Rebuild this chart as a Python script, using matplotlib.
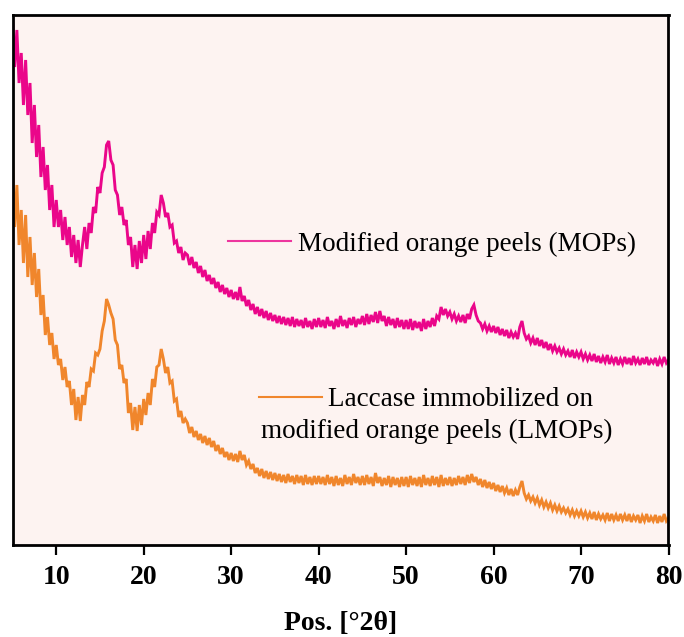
import matplotlib

matplotlib.use("Agg")
import matplotlib.pyplot as plt
import numpy as np
from matplotlib.lines import Line2D

# Scan grid (°2θ), 0.25° steps from 5 to 80
two_theta = np.arange(5.0, 80.001, 0.25)

# Intensity (a.u.), 20 values per 5° row
mops = [
    528, 478, 515, 462, 492, 440, 485, 430, 462, 402, 440, 388, 420, 368, 398, 355, 380, 335, 360, 318,
    345, 318, 335, 305, 328, 300, 318, 288, 310, 282, 305, 278, 300, 318, 296, 322, 312, 338, 332, 358,
    352, 372, 378, 400, 404, 385, 380, 355, 350, 330, 338, 320, 325, 300, 308, 278, 300, 276, 304, 282,
    310, 286, 314, 296, 322, 312, 333, 330, 350, 342, 328, 332, 318, 320, 302, 304, 292, 298, 285, 292,
    290, 280, 288, 277, 283, 272, 279, 268, 275, 264, 270, 261, 267, 257, 263, 253, 260, 251, 257, 248,
    255, 246, 253, 245, 258, 244, 249, 239, 245, 235, 241, 231, 238, 229, 236, 227, 234, 225, 232, 224,
    230, 222, 229, 221, 228, 220, 227, 219, 228, 218, 226, 219, 225, 217, 227, 218, 224, 216, 226, 218,
    227, 218, 225, 217, 228, 219, 224, 216, 226, 218, 229, 219, 225, 217, 227, 220, 228, 218, 226, 221,
    229, 220, 231, 221, 230, 223, 233, 222, 234, 224, 229, 219, 228, 220, 226, 217, 227, 218, 225, 216,
    225, 216, 226, 215, 224, 217, 223, 214, 226, 216, 224, 218, 227, 219, 229, 226, 238, 230, 236, 229,
    233, 226, 231, 224, 229, 223, 230, 222, 231, 226, 236, 240, 230, 224, 222, 216, 221, 214, 219, 213,
    219, 212, 218, 210, 216, 209, 215, 207, 213, 208, 212, 206, 218, 224, 212, 206, 209, 202, 207, 200,
    207, 199, 205, 197, 203, 195, 201, 194, 199, 193, 197, 191, 196, 190, 194, 188, 195, 187, 193, 188,
    193, 186, 191, 185, 190, 184, 191, 183, 189, 182, 188, 183, 190, 181, 187, 182, 188, 180, 186, 181,
    188, 181, 187, 180, 189, 182, 186, 180, 187, 181, 188, 180, 185, 182, 187, 179, 186, 181, 188, 182,
    185,
]

lmops = [
    385, 318, 360, 300, 335, 282, 330, 268, 308, 260, 292, 248, 276, 230, 250, 210, 228, 200, 212, 186,
    200, 180, 186, 165, 178, 158, 164, 140, 156, 125, 148, 124, 150, 140, 163, 158, 176, 174, 192, 190,
    196, 214, 224, 246, 240, 232, 226, 205, 200, 176, 180, 162, 166, 132, 142, 115, 138, 114, 140, 120,
    146, 130, 152, 140, 166, 158, 178, 180, 196, 186, 172, 178, 162, 164, 144, 146, 128, 134, 122, 126,
    122, 112, 118, 108, 114, 105, 111, 102, 109, 100, 107, 98, 104, 94, 100, 91, 97, 88, 93, 85,
    92, 84, 91, 83, 94, 85, 90, 80, 84, 76, 81, 72, 77, 69, 76, 67, 74, 66, 73, 65,
    72, 64, 71, 63, 70, 62, 71, 63, 69, 61, 70, 62, 69, 60, 70, 61, 68, 60, 69, 61,
    69, 61, 68, 60, 70, 61, 68, 59, 69, 60, 67, 59, 70, 61, 68, 60, 71, 62, 68, 60,
    69, 60, 70, 61, 68, 59, 72, 62, 68, 59, 67, 60, 69, 58, 68, 60, 67, 58, 68, 59,
    68, 58, 69, 60, 67, 59, 68, 58, 70, 60, 67, 59, 69, 60, 68, 58, 70, 59, 67, 60,
    68, 59, 67, 60, 69, 61, 68, 60, 70, 62, 71, 63, 68, 60, 66, 58, 65, 57, 63, 56,
    62, 54, 60, 53, 59, 52, 57, 50, 56, 49, 55, 50, 58, 64, 52, 46, 50, 44, 48, 42,
    47, 40, 45, 38, 43, 37, 42, 35, 40, 34, 39, 33, 37, 32, 36, 30, 35, 29, 34, 29,
    34, 28, 33, 27, 32, 26, 33, 25, 31, 26, 30, 25, 32, 24, 31, 25, 30, 24, 31, 25,
    30, 24, 31, 23, 29, 25, 30, 22, 29, 24, 31, 23, 28, 24, 30, 22, 29, 23, 31, 24,
    27,
]

x_ticks = [10, 20, 30, 40, 50, 60, 70, 80]
label_mops = "Modified orange peels (MOPs)"
label_lmops = ["Laccase immobilized on", "modified orange peels (LMOPs)"]

PINK = "#ea068a"
ORANGE = "#f0862c"
BG = "#fdf3f1"

plt.rcParams["font.family"] = ["Liberation Serif", "DejaVu Serif"]

W, H = 684, 637
fig = plt.figure(figsize=(W / 100, H / 100), dpi=100)
ax = fig.add_axes([12.5 / W, (H - 545) / H, 656 / W, 530 / H])
ax.set_facecolor(BG)

ax.plot(two_theta, mops, color=PINK, lw=2.1, solid_joinstyle="miter")
ax.plot(two_theta, lmops, color=ORANGE, lw=2.1, solid_joinstyle="miter")

ax.set_xlim(5, 80)
ax.set_ylim(0, 530)
ax.set_yticks([])
ax.set_xticks(x_ticks)
ax.set_xticklabels([str(t) for t in x_ticks], fontsize=20, fontweight="bold")
ax.tick_params(axis="x", direction="out", length=7.5, width=1.6, pad=7)
for sp in ax.spines.values():
    sp.set_linewidth(2)
    sp.set_color("black")
ax.set_xlabel("Pos. [°2θ]", fontsize=20, fontweight="bold", labelpad=15)

# hand-placed legend entries
ax.add_line(Line2D([0.329, 0.424], [0.5736, 0.5736], transform=ax.transAxes,
                   color=PINK, lw=1.5, alpha=0.8))
ax.text(0.4345, 0.5547, label_mops, transform=ax.transAxes,
        fontsize=19.5, va="baseline", ha="left")
ax.add_line(Line2D([0.3758, 0.4718], [0.2792, 0.2792], transform=ax.transAxes,
                   color=ORANGE, lw=1.5))
ax.text(0.4817, 0.2623, label_lmops[0], transform=ax.transAxes,
        fontsize=19.5, va="baseline", ha="left")
ax.text(0.3788, 0.2019, label_lmops[1], transform=ax.transAxes,
        fontsize=19.5, va="baseline", ha="left")

fig.savefig("out.png", dpi=100, facecolor="white")
